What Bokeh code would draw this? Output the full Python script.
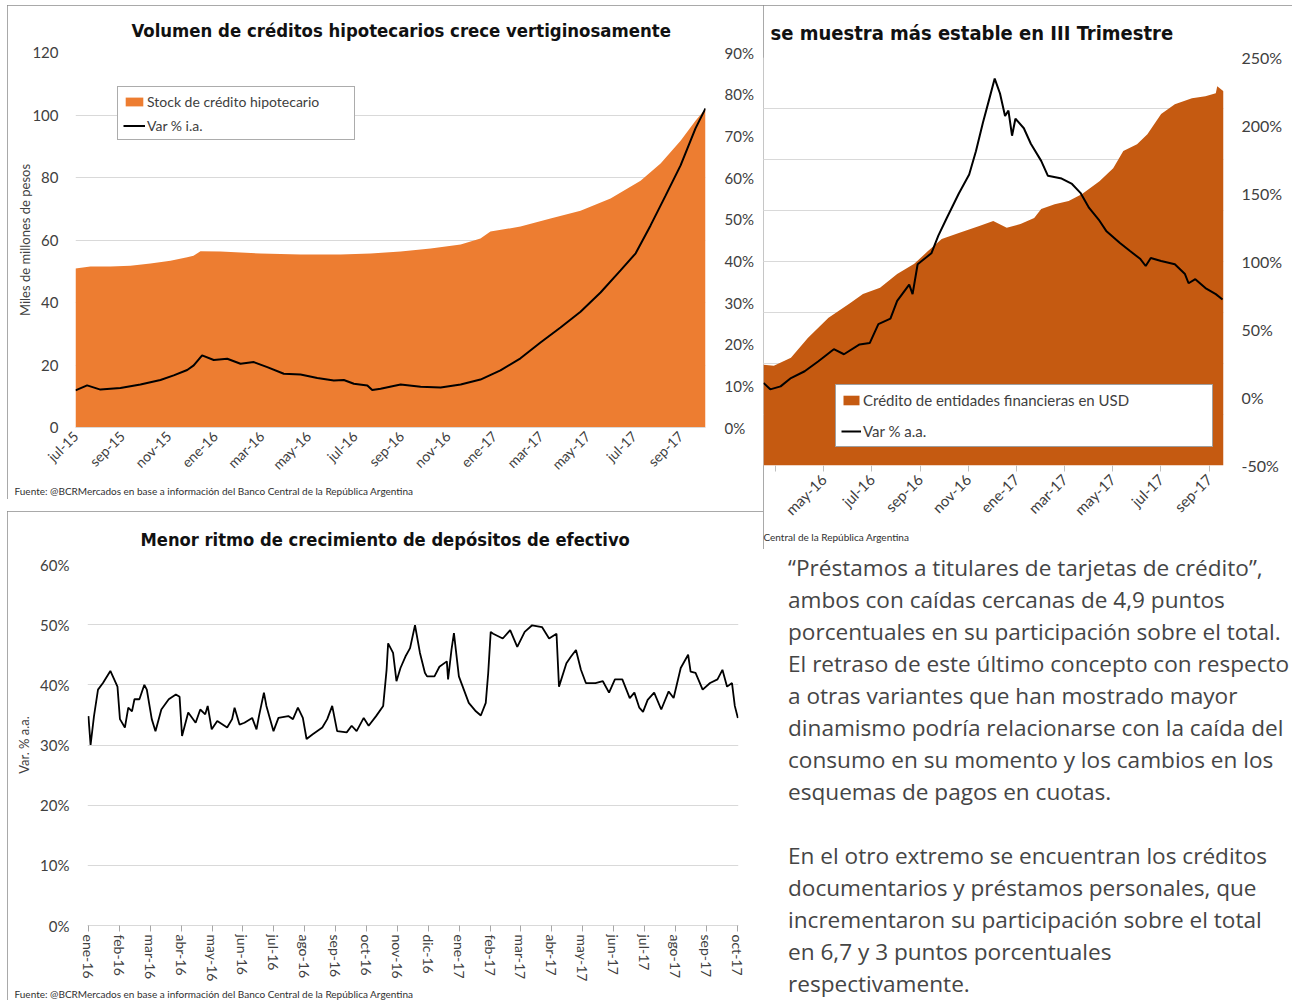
import math
from bokeh.plotting import figure
from bokeh.models import (Range1d, LinearAxis, FixedTicker, PrintfTickFormatter,
                          Legend, LegendItem, Title, Div, Spacer, Grid)
from bokeh.layouts import row, column
from bokeh.embed import file_html
from bokeh.resources import INLINE

# ---------------- data ----------------
# Chart 1: months since jul-15
meses_1 = ["jul-15", "sep-15", "nov-15", "ene-16", "mar-16", "may-16", "jul-16",
           "sep-16", "nov-16", "ene-17", "mar-17", "may-17", "jul-17", "sep-17"]
mes_stock = [0.00, 0.64, 1.50, 2.36, 3.22, 4.08, 4.80, 5.07, 5.37, 6.23, 7.95, 9.67,
             11.39, 12.68, 13.97, 15.26, 16.55, 17.40, 17.83, 19.12, 20.41, 21.70,
             22.99, 24.28, 25.14, 26.00, 26.64, 27.07]
stock_hipotecario = [50.9, 51.5, 51.5, 51.8, 52.5, 53.4, 54.5, 55.0, 56.4, 56.3, 55.7,
                     55.4, 55.4, 55.7, 56.3, 57.3, 58.6, 60.5, 62.7, 64.3, 66.9, 69.4,
                     73.3, 79.0, 84.5, 91.8, 98.2, 102.0]
mes_var_ia = [0.00, 0.50, 1.07, 1.93, 2.79, 3.65, 4.22, 4.80, 5.08, 5.44, 5.94, 6.52,
              7.09, 7.66, 8.24, 8.95, 9.67, 10.39, 11.10, 11.53, 11.96, 12.54, 12.75,
              13.11, 13.97, 14.83, 15.69, 16.55, 17.40, 18.26, 19.12, 19.98, 20.84,
              21.70, 22.56, 23.42, 24.07, 24.71, 25.36, 26.00, 26.64, 27.07]
var_ia = [8.9, 10.1, 9.1, 9.5, 10.3, 11.4, 12.5, 13.8, 14.9, 17.3, 16.2, 16.5, 15.3,
          15.7, 14.5, 12.9, 12.7, 11.9, 11.3, 11.4, 10.5, 10.1, 9.0, 9.3, 10.3, 9.8,
          9.6, 10.3, 11.5, 13.7, 16.6, 20.4, 24.0, 27.8, 32.4, 37.7, 41.8, 48.5, 55.7,
          62.9, 71.8, 76.6]

# Chart 2: months since jul-15 (visible part)
meses_2 = ["", "may-16", "jul-16", "sep-16", "nov-16", "ene-17", "mar-17", "may-17",
           "jul-17", "sep-17"]
mes_usd = [7.50, 7.93, 8.64, 9.35, 10.20, 11.06, 11.63, 12.34, 13.05, 13.76, 14.33,
           14.90, 15.61, 16.46, 17.04, 17.60, 18.17, 18.74, 19.03, 19.59, 20.17, 20.73,
           21.45, 22.02, 22.44, 23.01, 23.44, 24.01, 24.58, 25.29, 25.85, 26.28, 26.34,
           26.60]
credito_usd = [3.95, 3.91, 4.23, 5.01, 5.79, 6.34, 6.73, 6.97, 7.51, 7.91, 8.41, 8.88,
               9.12, 9.39, 9.59, 9.32, 9.47, 9.71, 10.06, 10.25, 10.37, 10.65, 11.15,
               11.66, 12.33, 12.60, 12.99, 13.78, 14.17, 14.40, 14.48, 14.60, 14.87,
               14.68]
mes_var_usd = [7.50, 7.78, 8.21, 8.64, 9.21, 9.78, 10.42, 10.84, 11.49, 11.91, 12.27,
               12.77, 13.05, 13.55, 13.69, 13.90, 14.47, 14.76, 15.11, 15.61, 16.04,
               16.32, 16.61, 16.89, 17.10, 17.32, 17.53, 17.67, 17.82, 17.96, 18.31,
               18.60, 19.03, 19.31, 19.88, 20.31, 20.66, 21.02, 21.45, 21.73, 22.30,
               22.72, 23.15, 23.37, 23.58, 24.01, 24.58, 25.00, 25.15, 25.43, 25.85,
               26.28, 26.56]
var_usd = [10.7, 6.0, 8.2, 14.3, 19.3, 26.7, 35.5, 31.8, 39.0, 40.0, 54.0, 58.0, 71.0,
           83.0, 76.0, 98.0, 106.0, 119.0, 132.0, 150.0, 164.0, 181.0, 202.0, 220.5,
           234.5, 223.5, 207.0, 211.0, 192.5, 205.0, 198.0, 186.6, 174.0, 163.0, 161.0,
           157.0, 150.5, 139.4, 130.0, 122.5, 113.6, 107.7, 101.8, 96.7, 102.6, 100.4,
           98.0, 90.8, 84.0, 87.0, 80.5, 76.0, 72.0]

# Chart 3: months since ene-16
meses_3 = ["ene-16", "feb-16", "mar-16", "abr-16", "may-16", "jun-16", "jul-16",
           "ago-16", "sep-16", "oct-16", "nov-16", "dic-16", "ene-17", "feb-17",
           "mar-17", "abr-17", "may-17", "jun-17", "jul-17", "ago-17", "sep-17", "oct-17"]
mes_dep = [0.00, 0.07, 0.18, 0.31, 0.47, 0.71, 0.94, 1.02, 1.18, 1.29, 1.41, 1.49, 1.65,
           1.81, 1.89, 2.05, 2.17, 2.36, 2.60, 2.83, 2.95, 3.03, 3.23, 3.47, 3.62, 3.78,
           3.86, 3.99, 4.17, 4.49, 4.65, 4.73, 4.89, 5.05, 5.30, 5.44, 5.52, 5.68, 5.76,
           5.99, 6.15, 6.47, 6.62, 6.78, 6.94, 7.06, 7.26, 7.57, 7.73, 7.89, 8.05, 8.36,
           8.52, 8.68, 8.91, 9.07, 9.31, 9.54, 9.65, 9.70, 9.86, 9.97, 10.10, 10.26,
           10.41, 10.57, 10.73, 10.89, 10.96, 11.20, 11.36, 11.60, 11.64, 11.75, 11.83,
           11.99, 12.15, 12.31, 12.54, 12.70, 12.86, 12.94, 13.02, 13.10, 13.41, 13.65,
           13.88, 14.12, 14.36, 14.68, 14.91, 15.15, 15.23, 15.47, 15.62, 15.78, 15.94,
           16.10, 16.41, 16.65, 16.85, 17.04, 17.28, 17.52, 17.67, 17.83, 17.95, 18.10,
           18.31, 18.54, 18.78, 18.94, 19.17, 19.41, 19.49, 19.65, 19.88, 20.12, 20.36,
           20.52, 20.67, 20.83, 20.92, 21.02]
depositos_var = [34.8, 30.0, 34.8, 39.2, 40.3, 42.3, 39.7, 34.3, 32.9, 36.2, 35.6, 37.6,
                 37.6, 40.0, 39.2, 34.3, 32.3, 35.9, 37.6, 38.4, 38.0, 31.5, 35.4, 33.7,
                 35.9, 35.1, 36.5, 32.6, 34.0, 32.9, 34.3, 36.2, 33.4, 33.7, 34.5, 32.6,
                 34.8, 38.7, 36.5, 32.3, 34.5, 34.8, 34.3, 36.2, 34.5, 31.0, 31.8, 32.9,
                 34.3, 36.5, 32.3, 32.1, 33.2, 32.3, 34.5, 33.2, 34.8, 36.5, 42.5, 46.9,
                 45.3, 40.6, 42.8, 44.7, 46.1, 49.9, 45.3, 42.0, 41.4, 41.4, 43.0, 43.9,
                 40.9, 45.8, 48.6, 41.4, 39.2, 37.0, 35.6, 34.9, 37.0, 42.0, 48.8, 48.5,
                 47.7, 49.1, 46.3, 48.8, 49.9, 49.6, 47.7, 48.5, 39.7, 43.6, 44.7, 45.8,
                 42.5, 40.3, 40.3, 40.6, 38.7, 40.9, 40.9, 37.8, 38.7, 36.2, 35.5, 37.5,
                 38.7, 35.9, 38.9, 37.8, 42.8, 45.0, 42.2, 42.0, 39.2, 40.3, 40.9, 42.5,
                 39.7, 40.3, 36.5, 34.5]

texto = [
    "“Préstamos a titulares de tarjetas de crédito”,",
    "ambos con caídas cercanas de 4,9 puntos",
    "porcentuales en su participación sobre el total.",
    "El retraso de este último concepto con respecto",
    "a otras variantes que han mostrado mayor",
    "dinamismo podría relacionarse con la caída del",
    "consumo en su momento y los cambios en los",
    "esquemas de pagos en cuotas.",
    "",
    "En el otro extremo se encuentran los créditos",
    "documentarios y préstamos personales, que",
    "incrementaron su participación sobre el total",
    "en 6,7 y 3 puntos porcentuales",
    "respectivamente.",
]

FUENTE = "Fuente: @BCRMercados en base a información del Banco Central de la República Argentina"

# ---------------- style ----------------
TITLE_FONT = "'DejaVu Sans Condensed', 'DejaVu Sans', sans-serif"
FONT = "Lato"
TXT = "#404040"
GRID = "#D9D9D9"
BORDER = {"outline": "1px solid #8c8c8c", "outline-offset": "-1px"}


def style_axis(ax, size="15px"):
    ax.major_label_text_font = FONT
    ax.major_label_text_font_size = size
    ax.major_label_text_color = TXT
    ax.axis_line_color = None
    ax.major_tick_line_color = None
    ax.minor_tick_line_color = None
    ax.major_tick_out = 0
    ax.major_tick_in = 0
    ax.minor_tick_out = 0
    ax.minor_tick_in = 0
    ax.axis_label_text_font = FONT
    ax.axis_label_text_font_style = "normal"
    ax.axis_label_text_color = TXT
    ax.axis_label_text_font_size = "13px"


def style_title(t, size):
    t.text_font = TITLE_FONT
    t.text_font_size = size
    t.text_font_style = "bold"
    t.text_color = "#111111"


def footnote(text, offset):
    return Title(text=text, align="left", offset=offset, text_font=FONT,
                 text_font_size="10px", text_font_style="normal", text_color="#303030",
                 standoff=2)


# ---------------- chart 1 ----------------
p1 = figure(width=756, height=494, x_range=Range1d(0, 27.07), y_range=Range1d(0, 120),
            output_backend="svg", toolbar_location=None,
            min_border_left=68, min_border_right=58, min_border_top=47, min_border_bottom=72)
p1.frame_align = False
p1.outline_line_color = None
p1.styles = BORDER
p1.title.text = "Volumen de créditos hipotecarios crece vertiginosamente"
p1.title.align = "left"
p1.title.offset = 56
p1.title.standoff = 24
style_title(p1.title, "18.4px")

area1 = p1.varea(x=mes_stock, y1=[0] * len(stock_hipotecario), y2=stock_hipotecario,
                 fill_color="#ED7D31")
p1.extra_y_ranges = {"pct": Range1d(0, 90)}
line1 = p1.line(mes_var_ia, var_ia, y_range_name="pct", line_color="black", line_width=2)

p1.yaxis.ticker = FixedTicker(ticks=list(range(0, 121, 20)))
p1.yaxis.axis_label = "Miles de millones de pesos"
style_axis(p1.yaxis[0])
p1.yaxis.major_label_standoff = 17
p1.yaxis.axis_label_standoff = -4
ax1r = LinearAxis(y_range_name="pct", ticker=FixedTicker(ticks=list(range(0, 91, 10))),
                  formatter=PrintfTickFormatter(format="%d%%"))
style_axis(ax1r)
ax1r.major_label_standoff = 19
p1.add_layout(ax1r, "right")

p1.xaxis.ticker = FixedTicker(ticks=list(range(0, 27, 2)))
p1.xaxis.major_label_overrides = {i * 2: m for i, m in enumerate(meses_1)}
p1.xaxis.major_label_orientation = math.pi / 4
style_axis(p1.xaxis[0], "14px")
p1.xaxis.major_label_standoff = 6
p1.xaxis.axis_line_color = GRID
p1.xgrid.grid_line_color = None
p1.ygrid.grid_line_color = GRID

leg1 = Legend(items=[LegendItem(label="Stock de crédito hipotecario", renderers=[area1]),
                     LegendItem(label="Var % i.a.", renderers=[line1])],
              location=(42, 287), padding=5, spacing=6, label_height=18,
              glyph_height=11, glyph_width=22, label_standoff=2, label_width=202,
              label_text_font=FONT, label_text_font_size="14px", label_text_color=TXT,
              border_line_color="#595959", border_line_width=1,
              background_fill_alpha=1.0)
p1.add_layout(leg1)
p1.add_layout(footnote(FUENTE, -61), "below")

# ---------------- chart 2 ----------------
p2 = figure(width=529, height=544, x_range=Range1d(7.5, 26.6), y_range=Range1d(0, 16),
            output_backend="svg", toolbar_location=None, y_axis_location=None,
            min_border_left=0, min_border_right=69, min_border_top=52, min_border_bottom=84)
p2.frame_align = False
p2.outline_line_color = None
p2.styles = BORDER
p2.title.text = "se muestra más estable en III Trimestre"
p2.title.align = "left"
p2.title.offset = 7
p2.title.standoff = 26
style_title(p2.title, "20px")
p2.add_layout(Grid(dimension=1, ticker=FixedTicker(ticks=list(range(0, 17, 2))),
                   grid_line_color=GRID))
p2.xgrid.grid_line_color = None

area2 = p2.varea(x=mes_usd, y1=[0] * len(credito_usd), y2=credito_usd, fill_color="#C55A11")
p2.extra_y_ranges = {"pct": Range1d(-50, 250)}
line2 = p2.line(mes_var_usd, var_usd, y_range_name="pct", line_color="black", line_width=2)
ax2r = LinearAxis(y_range_name="pct", ticker=FixedTicker(ticks=list(range(-50, 251, 50))),
                  formatter=PrintfTickFormatter(format="%d%%"))
style_axis(ax2r, "16px")
ax2r.major_label_standoff = 18
p2.add_layout(ax2r, "right")

p2.xaxis.ticker = FixedTicker(ticks=list(range(8, 27, 2)))
p2.xaxis.major_label_overrides = {8 + i * 2: m for i, m in enumerate(meses_2)}
p2.xaxis.major_label_orientation = math.pi / 4
style_axis(p2.xaxis[0], "15px")
p2.xaxis.major_tick_line_color = "#BFBFBF"
p2.xaxis.major_tick_out = 6
p2.xaxis.major_tick_in = 0

leg2 = Legend(items=[LegendItem(label="Crédito de entidades financieras en USD", renderers=[area2]),
                     LegendItem(label="Var % a.a.", renderers=[line2])],
              location=(72, 18), padding=5, spacing=11, label_height=20,
              glyph_height=12, glyph_width=20, label_standoff=2, label_width=344,
              label_text_font=FONT, label_text_font_size="15px", label_text_color=TXT,
              border_line_color="#404040", border_line_width=1,
              background_fill_alpha=1.0)
p2.add_layout(leg2)
p2.add_layout(footnote("Central de la República Argentina", 0), "below")

# ---------------- chart 3 ----------------
p3 = figure(width=756, height=489, x_range=Range1d(-0.03, 21.04), y_range=Range1d(0, 60),
            output_backend="svg", toolbar_location=None,
            min_border_left=80, min_border_right=25, min_border_top=53, min_border_bottom=72)
p3.frame_align = False
p3.outline_line_color = None
p3.styles = BORDER
p3.title.text = "Menor ritmo de crecimiento de depósitos de efectivo"
p3.title.align = "left"
p3.title.offset = 53
p3.title.standoff = 30
style_title(p3.title, "18.2px")

p3.line(mes_dep, depositos_var, line_color="black", line_width=1.8)

p3.yaxis.ticker = FixedTicker(ticks=list(range(0, 61, 10)))
p3.yaxis.formatter = PrintfTickFormatter(format="%d%%")
p3.yaxis.axis_label = "Var. % a.a."
style_axis(p3.yaxis[0])
p3.yaxis.major_label_standoff = 18

p3.xaxis.ticker = FixedTicker(ticks=list(range(0, 22)))
p3.xaxis.major_label_overrides = {i: m for i, m in enumerate(meses_3)}
p3.xaxis.major_label_orientation = "vertical"
style_axis(p3.xaxis[0], "14px")
p3.xaxis.axis_line_color = GRID
p3.xaxis.major_tick_line_color = "#A6A6A6"
p3.xaxis.major_tick_out = 6
p3.xaxis.major_tick_in = 0
p3.xaxis.major_label_standoff = 3
p3.xgrid.grid_line_color = None
p3.ygrid.grid_line_color = GRID
p3.add_layout(footnote(FUENTE, -73), "below")

# ---------------- text ----------------
html = ("<div style=\"font-family:'Open Sans';font-size:22.6px;line-height:32px;"
        "color:#454545;padding:3px 0 0 25px;white-space:nowrap;\">"
        + "<br>".join(t if t else "&nbsp;" for t in texto) + "</div>")
div = Div(text=html, width=529, height=451, margin=(0, 0, 0, 0))

layout = row(column(p1, Spacer(width=756, height=12), p3), column(p2, div),
             margin=(5, 0, 0, 7))

open("out.html", "w").write(file_html(layout, INLINE))
